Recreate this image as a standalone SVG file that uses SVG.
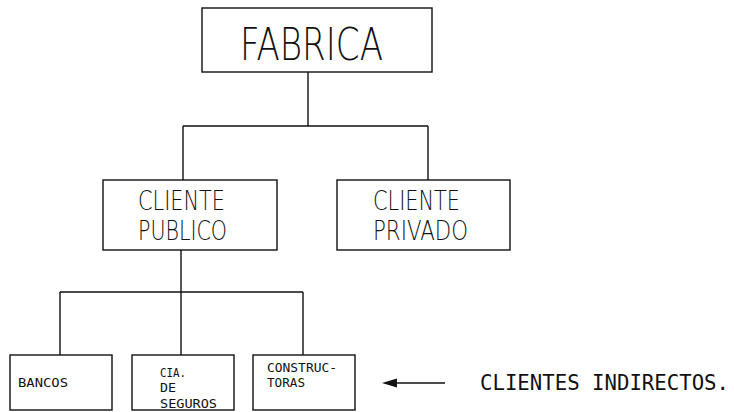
<svg xmlns="http://www.w3.org/2000/svg" width="734" height="412" viewBox="0 0 734 412">
<style>
.box{fill:#fff;stroke:#111;stroke-width:1.4}
.ln{fill:none;stroke:#111;stroke-width:1.4}
text{font-family:"DejaVu Sans Mono","Liberation Mono",monospace;fill:#111}
.thin{font-family:"DejaVu Sans","Liberation Sans",sans-serif;font-weight:200}
.big{font-size:44px}
.mid{font-size:27px}
.sm{font-size:12.5px}
.lbl{font-size:20.5px}
</style>
<rect width="734" height="412" fill="#fff"/>
<g id="connectors">
<path class="ln" d="M308,72 V126 M183,126 H428 M183,126 V180 M428,126 V180"/>
<path class="ln" d="M181,250 V292 M60,292 H303 M60,292 V355 M181,292 V355 M303,292 V355"/>
<path class="ln" d="M395,383 H445"/>
<polygon points="382,383 397,378.5 397,387.5" fill="#111"/>
</g>
<g id="fabrica">
<rect class="box" x="202" y="8" width="230" height="64"/>
<text class="big thin" x="240" y="60" textLength="143" lengthAdjust="spacingAndGlyphs">FABRICA</text>
</g>
<g id="cliente-publico">
<rect class="box" x="103" y="180" width="174" height="70"/>
<text class="mid thin" x="138" y="210" textLength="87" lengthAdjust="spacingAndGlyphs">CLIENTE</text>
<text class="mid thin" x="138" y="240" textLength="89" lengthAdjust="spacingAndGlyphs">PUBLICO</text>
</g>
<g id="cliente-privado">
<rect class="box" x="337" y="180" width="173" height="70"/>
<text class="mid thin" x="373" y="210" textLength="87" lengthAdjust="spacingAndGlyphs">CLIENTE</text>
<text class="mid thin" x="373" y="240" textLength="95" lengthAdjust="spacingAndGlyphs">PRIVADO</text>
</g>
<g id="bancos">
<rect class="box" x="10" y="355" width="102" height="55"/>
<text class="sm" x="18" y="387" textLength="50" lengthAdjust="spacingAndGlyphs">BANCOS</text>
</g>
<g id="cia-seguros">
<rect class="box" x="132" y="355" width="102" height="55"/>
<text class="sm" x="160" y="377" textLength="26" lengthAdjust="spacingAndGlyphs">CIA.</text>
<text class="sm" x="160" y="392" textLength="16" lengthAdjust="spacingAndGlyphs">DE</text>
<text class="sm" x="160" y="408" textLength="57" lengthAdjust="spacingAndGlyphs">SEGUROS</text>
</g>
<g id="constructoras">
<rect class="box" x="253" y="355" width="102" height="55"/>
<text class="sm" x="267" y="372" textLength="70" lengthAdjust="spacingAndGlyphs">CONSTRUC-</text>
<text class="sm" x="267" y="387" textLength="38" lengthAdjust="spacingAndGlyphs">TORAS</text>
</g>
<g id="clientes-indirectos">
<text class="lbl" x="480" y="390" textLength="249" lengthAdjust="spacingAndGlyphs">CLIENTES INDIRECTOS.</text>
</g>
</svg>
